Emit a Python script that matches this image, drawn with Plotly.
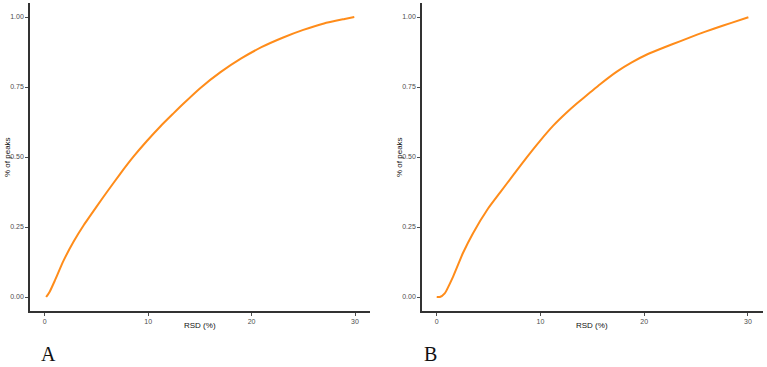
import plotly.graph_objects as go

# Panel A: cumulative fraction of peaks vs RSD (%)
rsd_a = [0.14, 0.5, 1.0, 1.8, 2.8, 3.8, 5.0, 6.0, 7.3, 8.6, 9.9, 11.2, 12.4, 13.4, 15.0, 17.0, 19.0, 21.0, 23.0, 25.0, 27.0, 29.0, 29.93]
frac_a = [0.0, 0.02, 0.06, 0.128, 0.198, 0.258, 0.322, 0.374, 0.440, 0.502, 0.558, 0.610, 0.654, 0.690, 0.745, 0.803, 0.852, 0.893, 0.926, 0.954, 0.977, 0.993, 1.0]

# Panel B
rsd_b = [0.0, 0.3, 0.77, 1.58, 2.54, 3.5, 4.95, 6.08, 7.37, 8.66, 9.94, 11.23, 12.5, 13.5, 14.8, 15.75, 17.36, 18.8, 20.26, 21.9, 23.5, 25.1, 26.7, 28.4, 30.04]
frac_b = [0.0, 0.0, 0.013, 0.073, 0.158, 0.228, 0.316, 0.372, 0.435, 0.498, 0.557, 0.612, 0.658, 0.691, 0.731, 0.760, 0.805, 0.838, 0.866, 0.891, 0.914, 0.937, 0.958, 0.979, 0.999]

y_ticks = [0.0, 0.25, 0.5, 0.75, 1.0]
y_tick_labels = ["0.00", "0.25", "0.50", "0.75", "1.00"]
x_ticks = [0, 10, 20, 30]
x_tick_labels = ["0", "10", "20", "30"]

W, H = 767, 367
line_color = "#ff8c1a"

fig = go.Figure()
fig.add_trace(go.Scatter(x=rsd_a, y=frac_a, mode="lines",
                         line=dict(color=line_color, width=2, shape="spline", smoothing=0.5),
                         xaxis="x", yaxis="y", showlegend=False))
fig.add_trace(go.Scatter(x=rsd_b, y=frac_b, mode="lines",
                         line=dict(color=line_color, width=2, shape="spline", smoothing=0.5),
                         xaxis="x2", yaxis="y2", showlegend=False))

tickfont = dict(family="Liberation Sans, Arial, sans-serif", size=7, color="#4d4d4d")
common_x = dict(range=[-1.42, 31.45], tickmode="array", tickvals=x_ticks, ticktext=x_tick_labels,
                showline=True, linecolor="#333333", linewidth=1.5, ticks="outside", ticklen=3,
                tickcolor="#4d4d4d", tickwidth=1, showgrid=False, zeroline=False, tickfont=tickfont)
common_y = dict(range=[-0.05, 1.05], tickmode="array", tickvals=y_ticks, ticktext=y_tick_labels,
                showline=True, linecolor="#333333", linewidth=1.5, ticks="outside", ticklen=3,
                tickcolor="#4d4d4d", tickwidth=1, showgrid=False, zeroline=False, tickfont=tickfont)

y_dom = [1 - 311 / H, 1 - 3 / H]
fig.update_layout(
    width=W, height=H, margin=dict(l=0, r=0, t=0, b=0),
    paper_bgcolor="white", plot_bgcolor="white",
    xaxis=dict(domain=[30 / W, 370 / W], anchor="y", **common_x),
    yaxis=dict(domain=y_dom, anchor="x", **common_y),
    xaxis2=dict(domain=[422 / W, 763 / W], anchor="y2", **common_x),
    yaxis2=dict(domain=y_dom, anchor="x2", **common_y),
)

title_font = dict(family="Liberation Sans, Arial, sans-serif", size=8, color="#111111")
label_font = dict(family="Liberation Serif, DejaVu Serif, serif", size=20, color="#111111")
ann = [
    dict(text="% of peaks", x=7 / W, y=1 - 157 / H, textangle=-90),
    dict(text="% of peaks", x=399 / W, y=1 - 157 / H, textangle=-90),
    dict(text="RSD (%)", x=200 / W, y=1 - 325 / H),
    dict(text="RSD (%)", x=592 / W, y=1 - 325 / H),
]
for a in ann:
    fig.add_annotation(xref="paper", yref="paper", showarrow=False, font=title_font,
                       xanchor="center", yanchor="middle", **a)
fig.add_annotation(text="A", x=48 / W, y=0, xref="paper", yref="paper", showarrow=False,
                   font=label_font, xanchor="center", yanchor="bottom")
fig.add_annotation(text="B", x=430 / W, y=0, xref="paper", yref="paper", showarrow=False,
                   font=label_font, xanchor="center", yanchor="bottom")

fig.write_html("out.html")
